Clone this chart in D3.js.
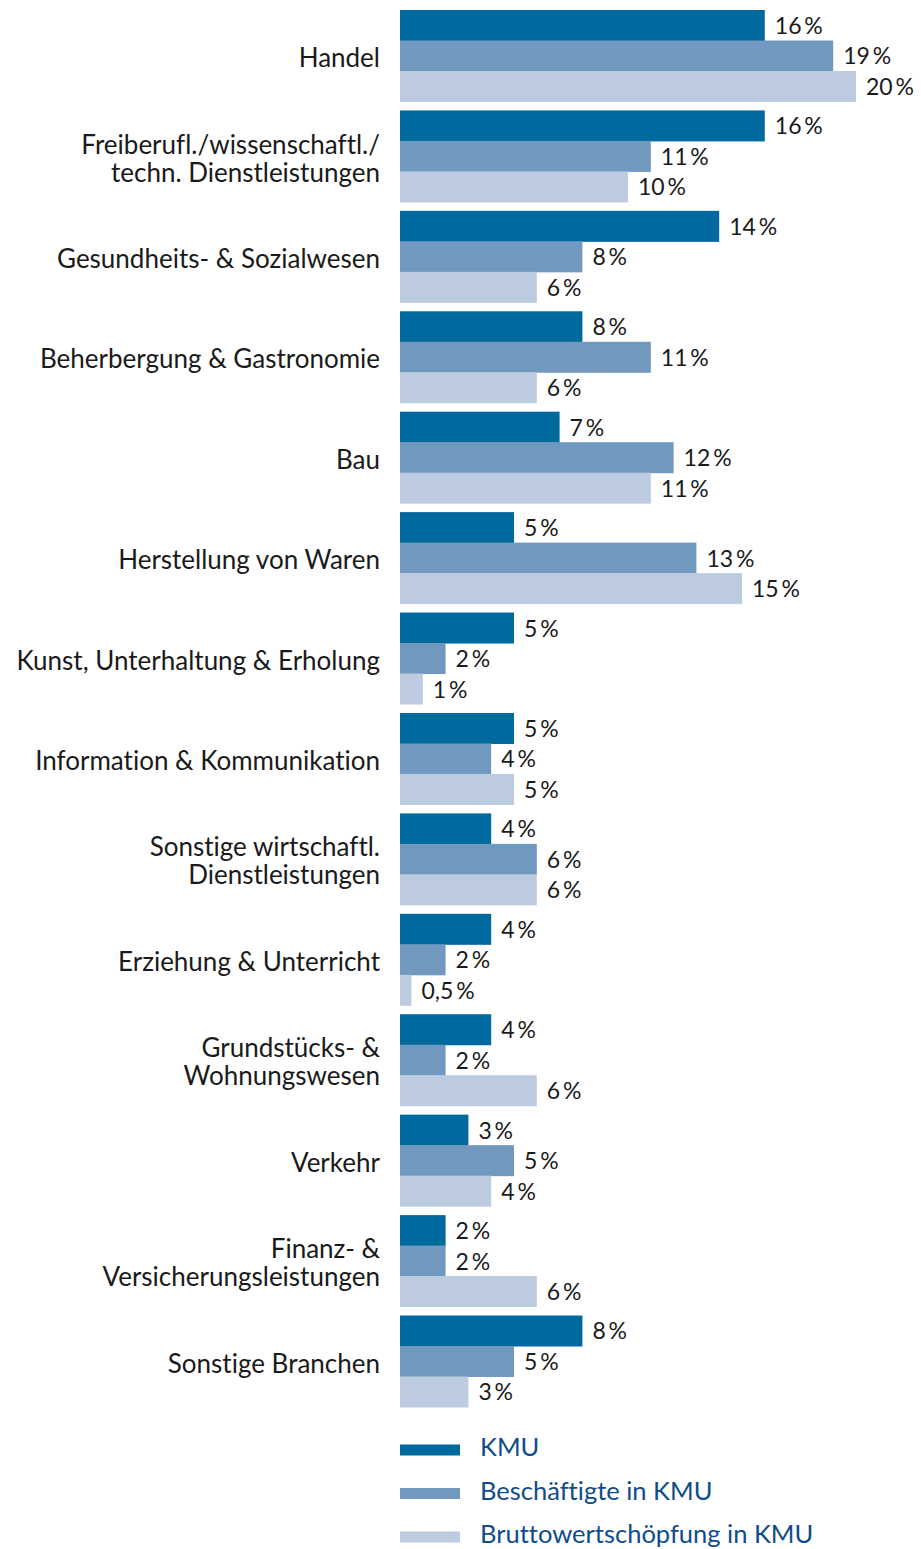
<!DOCTYPE html>
<html>
<head>
<meta charset="utf-8">
<script src="https://cdn.jsdelivr.net/npm/d3@7"></script>
<style>
  body { margin: 0; background: #fff; }
  text { font-family: Lato, "Open Sans", sans-serif; font-variant-ligatures: none; }
</style>
</head>
<body>
<div class="chart"></div>
<script>
// categories (line breaks as in the original)
var categories = [
  ["Handel"],
  ["Freiberufl./wissenschaftl./", "techn. Dienstleistungen"],
  ["Gesundheits- & Sozialwesen"],
  ["Beherbergung & Gastronomie"],
  ["Bau"],
  ["Herstellung von Waren"],
  ["Kunst, Unterhaltung & Erholung"],
  ["Information & Kommunikation"],
  ["Sonstige wirtschaftl.", "Dienstleistungen"],
  ["Erziehung & Unterricht"],
  ["Grundstücks- &", "Wohnungswesen"],
  ["Verkehr"],
  ["Finanz- &", "Versicherungsleistungen"],
  ["Sonstige Branchen"]
];
var series = ["KMU", "Beschäftigte in KMU", "Bruttowertschöpfung in KMU"];
var kmu         = [16, 16, 14, 8, 7, 5, 5, 5, 4, 4, 4, 3, 2, 8];
var beschaeftigte = [19, 11, 8, 11, 12, 13, 2, 4, 6, 2, 2, 5, 2, 5];
var wertschoepfung = [20, 10, 6, 6, 11, 15, 1, 5, 6, 0.5, 6, 4, 6, 3];
var colors = ["#006a9f", "#7198be", "#bccbdf"];

var values = [kmu, beschaeftigte, wertschoepfung];
var rows = categories.map(function(c, i){
  return { key: i, label: c, vals: values.map(function(v){ return v[i]; }) };
});

var width = 921, height = 1549;

var svg = d3.select(".chart").append("svg")
            .attr("width", width)
            .attr("height", height);

var x = d3.scaleLinear().domain([0, 20]).range([400, 856]);

var y = d3.scaleBand()
          .domain(d3.range(rows.length))
          .range([10, 1407])
          .paddingInner(0.089)
          .paddingOuter(0);

var ySub = d3.scaleBand()
             .domain(d3.range(series.length))
             .range([0, y.bandwidth()]);

var fmt = function(v){ return String(v).replace(".", ",") + "\u2009%"; };

var groups = svg.selectAll("g.group")
    .data(rows)
    .enter().append("g")
    .attr("class", "group")
    .attr("transform", function(d){ return "translate(0," + y(d.key) + ")"; });

// bars
groups.selectAll("rect")
    .data(function(d){ return d.vals; })
    .enter().append("rect")
    .attr("x", x(0))
    .attr("y", function(d, i){ return ySub(i); })
    .attr("width", function(d){ return x(d) - x(0); })
    .attr("height", ySub.bandwidth() + 0.5)
    .style("fill", function(d, i){ return colors[i]; });

// value labels
groups.selectAll("text.value")
    .data(function(d){ return d.vals; })
    .enter().append("text")
    .attr("class", "value")
    .attr("x", function(d){ return x(d) + 10; })
    .attr("y", function(d, i){ return ySub(i) + ySub.bandwidth() / 2; })
    .attr("dy", "0.38em")
    .attr("font-size", "23px")
    .style("fill", "#1a1a1a")
    .text(fmt);

// category labels
groups.append("text")
    .attr("class", "cat")
    .attr("text-anchor", "end")
    .attr("font-size", "26px")
    .style("fill", "#1a1a1a")
    .each(function(d){
      var t = d3.select(this);
      var n = d.label.length, lh = 28;
      d.label.forEach(function(line, j){
        t.append("tspan")
         .attr("x", 380)
         .attr("y", y.bandwidth() / 2 + 2 + (j - (n - 1) / 2) * lh)
         .attr("dy", "0.36em")
         .text(line);
      });
    });

// legend
var legend = svg.selectAll("g.legend")
    .data(series)
    .enter().append("g")
    .attr("class", "legend")
    .attr("transform", function(d, i){ return "translate(400," + (1450 + i * 43.5) + ")"; });

legend.append("rect")
    .attr("x", 0)
    .attr("y", -5.5)
    .attr("width", 60)
    .attr("height", 11)
    .style("fill", function(d, i){ return colors[i]; });

legend.append("text")
    .attr("x", 80)
    .attr("y", -3)
    .attr("dy", "0.36em")
    .attr("font-size", "25.5px")
    .style("fill", "#0f4c8a")
    .text(function(d){ return d; });
</script>
</body>
</html>
